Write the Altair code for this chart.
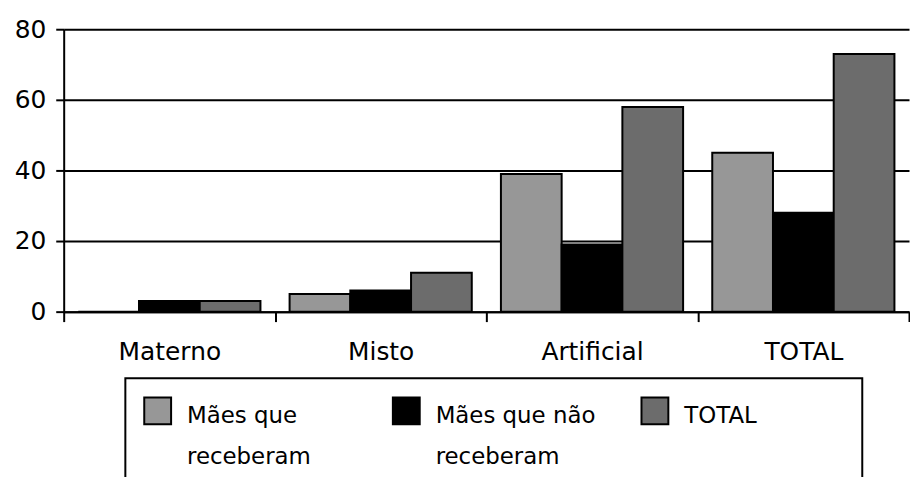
import altair as alt
import pandas as pd

categories = ["Materno", "Misto", "Artificial", "TOTAL"]
series = ["Mães que receberam", "Mães que não receberam", "TOTAL"]
receberam = [0, 5, 39, 45]
nao_receberam = [3, 6, 19, 28]
total = [3, 11, 58, 73]
colors = ["#979797", "#000000", "#6c6c6c"]

rows = []
for i, c in enumerate(categories):
    for s, vals in zip(series, [receberam, nao_receberam, total]):
        rows.append({"categoria": c, "grupo": s, "valor": vals[i]})
df = pd.DataFrame(rows)

FONT = "DejaVu Sans"
LABEL_DY = -6
PAD = "\u00a0" * 12 + "\u200b"
PAD2 = "\u200b" + "\u00a0" * 6 + "\u200b"

chart = (
    alt.Chart(df)
    .mark_bar(stroke="black", strokeWidth=2)
    .encode(
        x=alt.X(
            "categoria:N",
            sort=categories,
            scale=alt.Scale(paddingInner=0, paddingOuter=0),
            axis=alt.Axis(
                title=None,
                labelAngle=0,
                tickBand="extent",
                tickSize=10,
                tickWidth=2,
                tickColor="black",
                domainColor="black",
                domainWidth=2,
                labelFont=FONT,
                labelFontSize=25,
                labelColor="black",
                labelPadding=18 - LABEL_DY,
                grid=False,
            ),
        ),
        xOffset=alt.XOffset(
            "grupo:N",
            sort=series,
            scale=alt.Scale(paddingInner=0, paddingOuter=0.24),
        ),
        y=alt.Y(
            "valor:Q",
            scale=alt.Scale(domain=[0, 80], nice=False),
            axis=alt.Axis(
                title=None,
                values=[0, 20, 40, 60, 80],
                grid=True,
                gridColor="black",
                gridWidth=2,
                gridOpacity=1,
                tickSize=8,
                tickWidth=2,
                tickColor="black",
                domainColor="black",
                domainWidth=2,
                labelFont=FONT,
                labelFontSize=25,
                labelColor="black",
                labelPadding=10,
                labelOffset=-LABEL_DY,
            ),
        ),
        color=alt.Color(
            "grupo:N",
            sort=series,
            scale=alt.Scale(domain=series, range=colors),
            legend=alt.Legend(
                title=None,
                orient="none",
                legendX=62,
                legendY=351,
                direction="horizontal",
                columns=3,
                gridAlign="all",
                columnPadding=42,
                padding=18,
                strokeColor="black",
                symbolType="square",
                symbolSize=729,
                symbolStrokeColor="black",
                symbolStrokeWidth=2,
                symbolOpacity=1,
                labelFont=FONT,
                labelFontSize=23,
                labelColor="black",
                labelOffset=15,
                labelLimit=400,
                labelBaseline="top",
                labelExpr=(
                    "indexof(datum.label, 'receberam') > 0 ? "
                    "[trim(replace(datum.label, 'receberam', '')), 'receberam'] : "
                    "[datum.label + '" + PAD + "', '" + PAD2 + "']"
                ),
            ),
        ),
    )
    .properties(
        width=850,
        height=284,
        padding={"left": 6, "top": 8, "right": 0, "bottom": 0},
        background="white",
    )
    .configure(
        view=alt.ViewConfig(strokeWidth=0),
        legend=alt.LegendConfig(strokeWidth=2),
        style={"guide-label": {"lineHeight": 41, "dy": LABEL_DY}},
    )
)

chart.save("out.html", embed_options={"renderer": "svg", "actions": False})
